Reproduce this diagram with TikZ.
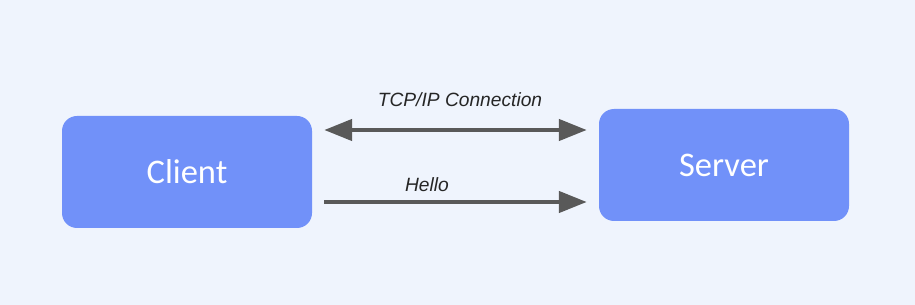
\documentclass[tikz,border=0pt]{standalone}
\usepackage{fontspec}
\setmainfont{Carlito}
\newfontfamily\arialfont{Liberation Sans}
\usetikzlibrary{arrows.meta}
\definecolor{bgc}{HTML}{EFF4FD}
\definecolor{boxc}{HTML}{7191F9}
\definecolor{arrc}{HTML}{595959}
\tikzset{
  box/.style={fill=boxc, draw=none, rounded corners=15pt, minimum width=250pt, minimum height=112pt, inner sep=0pt, text=white, font=\fontsize{34.5}{40}\selectfont},
  arr/.style={draw=arrc, line width=4.5pt, -{Triangle[length=28pt,width=21pt]}},
  biarr/.style={draw=arrc, line width=4.5pt, {Triangle[length=28pt,width=21pt]}-{Triangle[length=28pt,width=21pt]}},
  lbl/.style={font=\arialfont\itshape\fontsize{19.2}{23}\selectfont, text=black!85, inner sep=0pt}
}
\begin{document}
\begin{tikzpicture}[x=1pt,y=1pt]
\fill[bgc] (0,0) rectangle (915,305);
\useasboundingbox (0,0) rectangle (915,305);
\node[box] (client) at (187,133) {Client};
\node[box] (server) at (724,140) {Server};
\coordinate (t1) at ([shift={(12pt,42pt)}]client.east);
\coordinate (t2) at (server.west |- t1);
\coordinate (b1) at ([shift={(12pt,-30pt)}]client.east);
\coordinate (b2) at (server.west |- b1);
\draw[biarr] (t1) -- ([xshift=-12pt]t2);
\draw[arr] (b1) -- ([xshift=-12pt]b2);
\node[lbl] (tcp) at (460,205) {TCP/IP Connection};
\node[lbl] (hello) at (427,120) {Hello};
\end{tikzpicture}
\end{document}
